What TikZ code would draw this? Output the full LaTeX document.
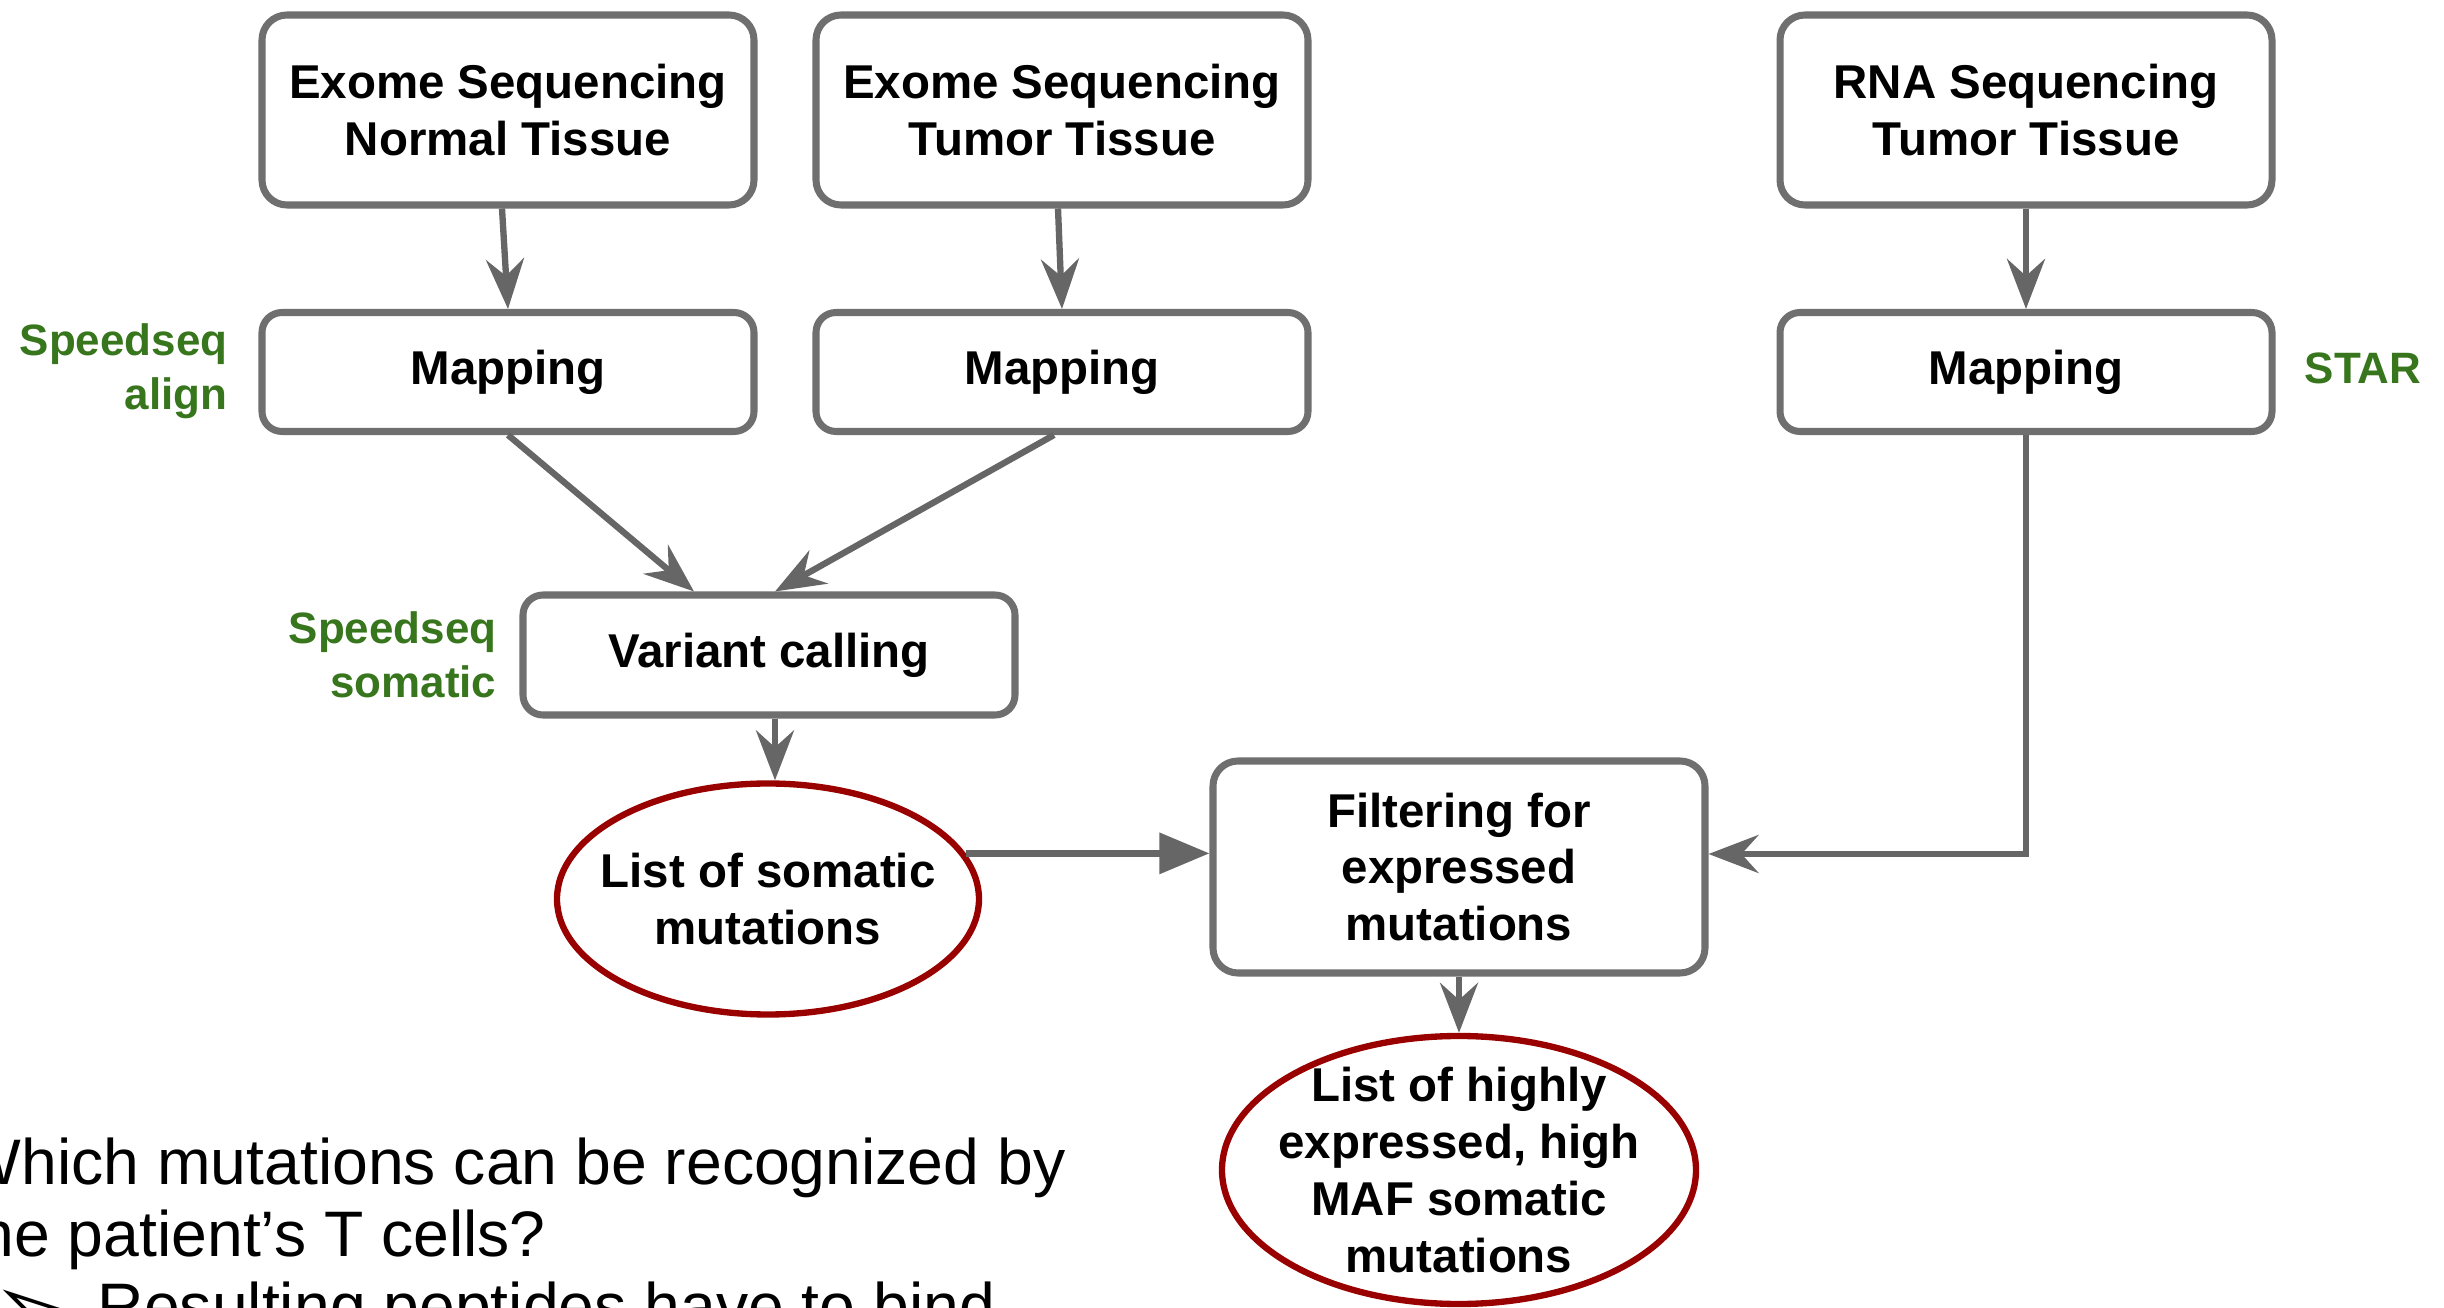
\documentclass[tikz,border=0pt]{standalone}
\usepackage{fontspec}
\setmainfont{Liberation Sans}
\newfontfamily\bulletfont{DejaVu Sans}
\usepackage{tikz}
\usetikzlibrary{shapes.geometric,arrows.meta}
\definecolor{linegray}{HTML}{666666}
\definecolor{boxgray}{HTML}{6F6F6F}
\definecolor{listred}{HTML}{990000}
\definecolor{toolgreen}{HTML}{38761D}

\begin{document}
\begin{tikzpicture}[
	stepbox/.style={draw=boxgray,line width=2pt,rounded corners=0.25cm,fill=white,minimum width=4.92cm,align=center,inner sep=2pt,font=\fontsize{13.5}{16.2}\selectfont\bfseries},
	listnode/.style={ellipse,draw=listred,line width=1.8pt,fill=white,align=center,inner sep=-0.5cm,font=\fontsize{13.5}{16.2}\selectfont\bfseries},
	tool/.style={text=toolgreen,inner sep=0pt,font=\fontsize{12.5}{15.5}\selectfont\bfseries},
	question/.style={inner sep=0pt,anchor=base west,font=\fontsize{18.3}{21}\selectfont},
	flow/.style={draw=linegray,line width=1.8pt,-{Stealth[length=0.5cm,width=0.38cm,inset=0.17cm]}},
	flowtri/.style={draw=linegray,line width=1.8pt,-{Triangle[length=0.5cm,width=0.4cm]}}]
	\useasboundingbox (0,0) rectangle (24.44,13.07);
	\clip (0,0) rectangle (24.44,13.07);
	\node[stepbox,minimum height=1.9cm] (nt) at (5.08,11.97) {Exome Sequencing\\Normal Tissue};
	\node[stepbox,minimum height=1.9cm] (tt) at (10.62,11.97) {Exome Sequencing\\Tumor Tissue};
	\node[stepbox,minimum height=1.9cm] (rna) at (20.26,11.97) {RNA Sequencing\\Tumor Tissue};
	\node[stepbox,minimum height=1.19cm,rounded corners=0.2cm] (m1) at (5.08,9.35) {Mapping};
	\node[stepbox,minimum height=1.19cm,rounded corners=0.2cm] (m2) at (10.62,9.35) {Mapping};
	\node[stepbox,minimum height=1.19cm,rounded corners=0.2cm] (m3) at (20.26,9.35) {Mapping};
	\node[stepbox,minimum height=1.2cm,rounded corners=0.2cm] (vc) at (7.69,6.52) {Variant calling};
	\node[listnode,minimum width=4.22cm,minimum height=2.31cm] (e1) at (7.68,4.08) {List of somatic\\mutations};
	\node[stepbox,minimum height=2.12cm] (filt) at (14.59,4.40) {Filtering for\\expressed\\mutations};
	\node[listnode,minimum width=4.74cm,minimum height=2.68cm] (e2) at (14.59,1.37) {List of highly\\expressed, high\\MAF somatic\\mutations};
	\node[tool,align=right,anchor=east] (t1) at (2.28,9.36) {Speedseq\\align};
	\node[tool,align=right,anchor=east] (t2) at (4.97,6.52) {Speedseq\\somatic};
	\node[tool,anchor=west] (t3) at (23.04,9.39) {STAR};
	\draw[flow] ([xshift=-0.06cm]nt.south) -- (m1.north);
	\draw[flow] ([xshift=-0.04cm]tt.south) -- (m2.north);
	\draw[flow] (rna.south) -- (m3.north);
	\draw[flow] (m1.south) -- ([xshift=-0.75cm]vc.north);
	\draw[flow] ([xshift=-0.08cm]m2.south) -- ([xshift=0.06cm]vc.north);
	\draw[flow] ([xshift=0.06cm]vc.south) -- ([xshift=0.07cm]e1.north);
	\draw[flowtri] (e1.13) -- (e1.13 -| filt.west);
	\draw[flow] (m3.south) |- ([yshift=0.13cm]filt.east);
	\draw[flow] (filt.south) -- (e2.north);
	\node[question] (q1) at (-0.40,1.23) {Which mutations can be recognized by};
	\node[question] (q2) at (-0.40,0.51) {the patient’s T cells?};
	\node[question] (q3) at (-0.08,-0.21) {\makebox[1.05cm][l]{\bulletfont\fontsize{27}{27}\selectfont\raisebox{-0.12cm}{➢}}Resulting peptides have to bind};
\end{tikzpicture}
\end{document}
